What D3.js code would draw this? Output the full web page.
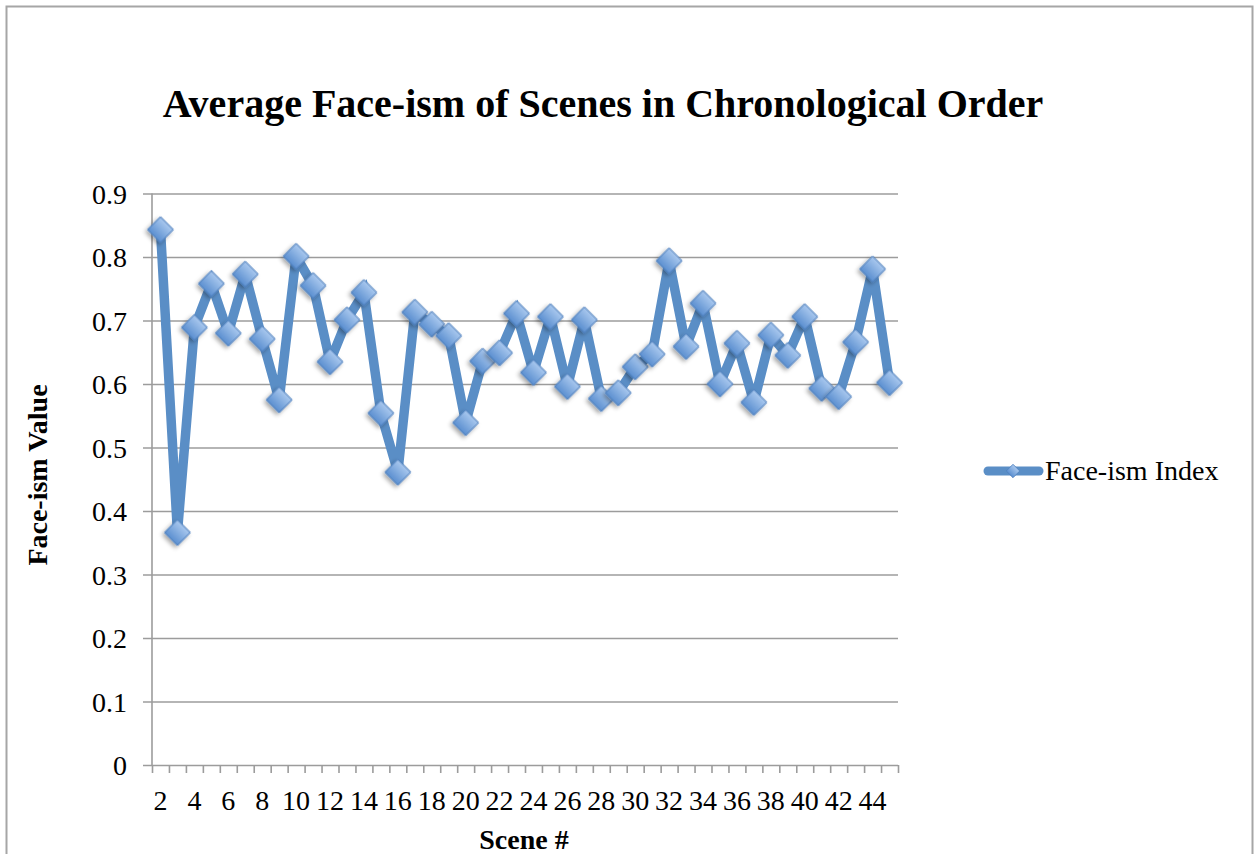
<!DOCTYPE html>
<html>
<head>
<meta charset="utf-8">
<script src="https://cdn.jsdelivr.net/npm/d3@7"></script>
<style>
  html, body { margin: 0; padding: 0; background: #fff; }
  svg { display: block; }
</style>
</head>
<body>
<div id="chart"></div>
<script>
// Scene numbers on the category axis and the average face-ism for each one.
const scenes = d3.range(2, 46);
const faceism = [
  0.843, 0.366, 0.689, 0.758, 0.680, 0.773, 0.671, 0.575, 0.801, 0.755,
  0.635, 0.701, 0.744, 0.554, 0.461, 0.713, 0.694, 0.676, 0.539, 0.636,
  0.649, 0.711, 0.618, 0.706, 0.596, 0.701, 0.577, 0.586, 0.627, 0.647,
  0.794, 0.659, 0.727, 0.600, 0.664, 0.571, 0.677, 0.645, 0.706, 0.593,
  0.580, 0.666, 0.781, 0.602
];
const yTicks = [0, 0.1, 0.2, 0.3, 0.4, 0.5, 0.6, 0.7, 0.8, 0.9];
const xLabels = d3.range(2, 45, 2);

const title = 'Average Face-ism of Scenes in Chronological Order';
const xTitle = 'Scene #';
const yTitle = 'Face-ism Value';
const seriesName = 'Face-ism Index';

const width = 1257, height = 854;
const font = '"Liberation Serif", "Times New Roman", serif';
const lineColor = '#5a8ec6';

const svg = d3.select('#chart').append('svg')
  .attr('width', width)
  .attr('height', height)
  .style('font-family', font);

const defs = svg.append('defs');
const grad = defs.append('linearGradient')
  .attr('id', 'diamondFill')
  .attr('x1', 0).attr('y1', 0).attr('x2', 0).attr('y2', 1);
grad.append('stop').attr('offset', '0%').attr('stop-color', '#a9c8ee');
grad.append('stop').attr('offset', '100%').attr('stop-color', '#5b8fd0');

defs.append('filter')
  .attr('id', 'shadow')
  .attr('x', '-50%').attr('y', '-50%').attr('width', '200%').attr('height', '200%')
  .append('feDropShadow')
  .attr('dx', 0).attr('dy', 3).attr('stdDeviation', 2)
  .attr('flood-color', '#000').attr('flood-opacity', 0.35);

// outer chart frame (bottom edge is cut off in the picture)
svg.append('rect')
  .attr('x', 6.5).attr('y', 6.5)
  .attr('width', 1246).attr('height', 870)
  .attr('fill', 'none')
  .attr('stroke', '#a6a6a6')
  .attr('stroke-width', 2);

const plot = { left: 152, right: 898, top: 193.5, bottom: 765 };

// categories sit between ticks, so boundaries are at half steps
const x = d3.scaleLinear()
  .domain([scenes[0] - 0.5, scenes[scenes.length - 1] + 0.5])
  .range([plot.left, plot.right]);
const y = d3.scaleLinear()
  .domain([0, 0.9])
  .range([plot.bottom, plot.top]);

// horizontal gridlines + y labels
const yAxis = svg.append('g')
  .attr('transform', `translate(143,0)`)
  .call(d3.axisLeft(y)
    .tickValues(yTicks)
    .tickSize(-(plot.right - 143))
    .tickPadding(16)
    .tickFormat(d => d === 0 ? '0' : d3.format('.1f')(d)));
yAxis.select('.domain').remove();
yAxis.selectAll('line').attr('stroke', '#9c9c9c').attr('stroke-width', 1.6);
yAxis.selectAll('text')
  .attr('fill', '#000')
  .style('font-family', font)
  .style('font-size', '28px')
  .attr('dy', '0.34em');

// vertical axis line
svg.append('line')
  .attr('x1', plot.left).attr('x2', plot.left)
  .attr('y1', plot.top).attr('y2', plot.bottom)
  .attr('stroke', '#9c9c9c').attr('stroke-width', 1.6);

// x axis ticks at category boundaries
const xAxis = svg.append('g')
  .attr('transform', `translate(0,${plot.bottom})`)
  .call(d3.axisBottom(x)
    .tickValues(d3.range(scenes[0] - 0.5, scenes[scenes.length - 1] + 1, 1))
    .tickSize(8)
    .tickFormat(''));
xAxis.select('.domain').remove();
xAxis.selectAll('line').attr('stroke', '#9c9c9c').attr('stroke-width', 1.6);

svg.append('g')
  .selectAll('text')
  .data(xLabels)
  .join('text')
  .attr('x', d => x(d))
  .attr('y', 810)
  .attr('text-anchor', 'middle')
  .style('font-size', '28px')
  .text(d => d);

// series line
const line = d3.line()
  .x((d, i) => x(scenes[i]))
  .y(d => y(d));

svg.append('path')
  .datum(faceism)
  .attr('d', line)
  .attr('fill', 'none')
  .attr('stroke', lineColor)
  .attr('stroke-width', 9.5)
  .attr('stroke-linejoin', 'miter')
  .attr('stroke-miterlimit', 3);

const diamond = d3.symbol().type(d3.symbolSquare).size(330);
svg.append('g')
  .selectAll('path')
  .data(faceism)
  .join('path')
  .attr('d', diamond)
  .attr('transform', (d, i) => `translate(${x(scenes[i])},${y(d)}) rotate(45)`)
  .attr('fill', 'url(#diamondFill)')
  .attr('stroke', '#4f7fbd')
  .attr('stroke-width', 1)
  .attr('filter', 'url(#shadow)');

// titles
svg.append('text')
  .attr('x', 603).attr('y', 117)
  .attr('text-anchor', 'middle')
  .style('font-size', '40px')
  .style('font-weight', 'bold')
  .text(title);

svg.append('text')
  .attr('x', 524).attr('y', 849)
  .attr('text-anchor', 'middle')
  .style('font-size', '28px')
  .style('font-weight', 'bold')
  .text(xTitle);

svg.append('text')
  .attr('transform', 'translate(47,475) rotate(-90)')
  .attr('text-anchor', 'middle')
  .style('font-size', '28px')
  .style('font-weight', 'bold')
  .text(yTitle);

// legend
const legend = svg.append('g').attr('transform', 'translate(0,471)');
legend.append('line')
  .attr('x1', 988).attr('x2', 1039)
  .attr('stroke', lineColor)
  .attr('stroke-width', 9)
  .attr('stroke-linecap', 'round');
legend.append('path')
  .attr('d', d3.symbol().type(d3.symbolSquare).size(90))
  .attr('transform', 'translate(1013,0) rotate(45)')
  .attr('fill', 'url(#diamondFill)')
  .attr('stroke', '#4f7fbd')
  .attr('stroke-width', 0.8);
legend.append('text')
  .attr('x', 1045).attr('y', 9)
  .style('font-size', '28px')
  .text(seriesName);
</script>
</body>
</html>
